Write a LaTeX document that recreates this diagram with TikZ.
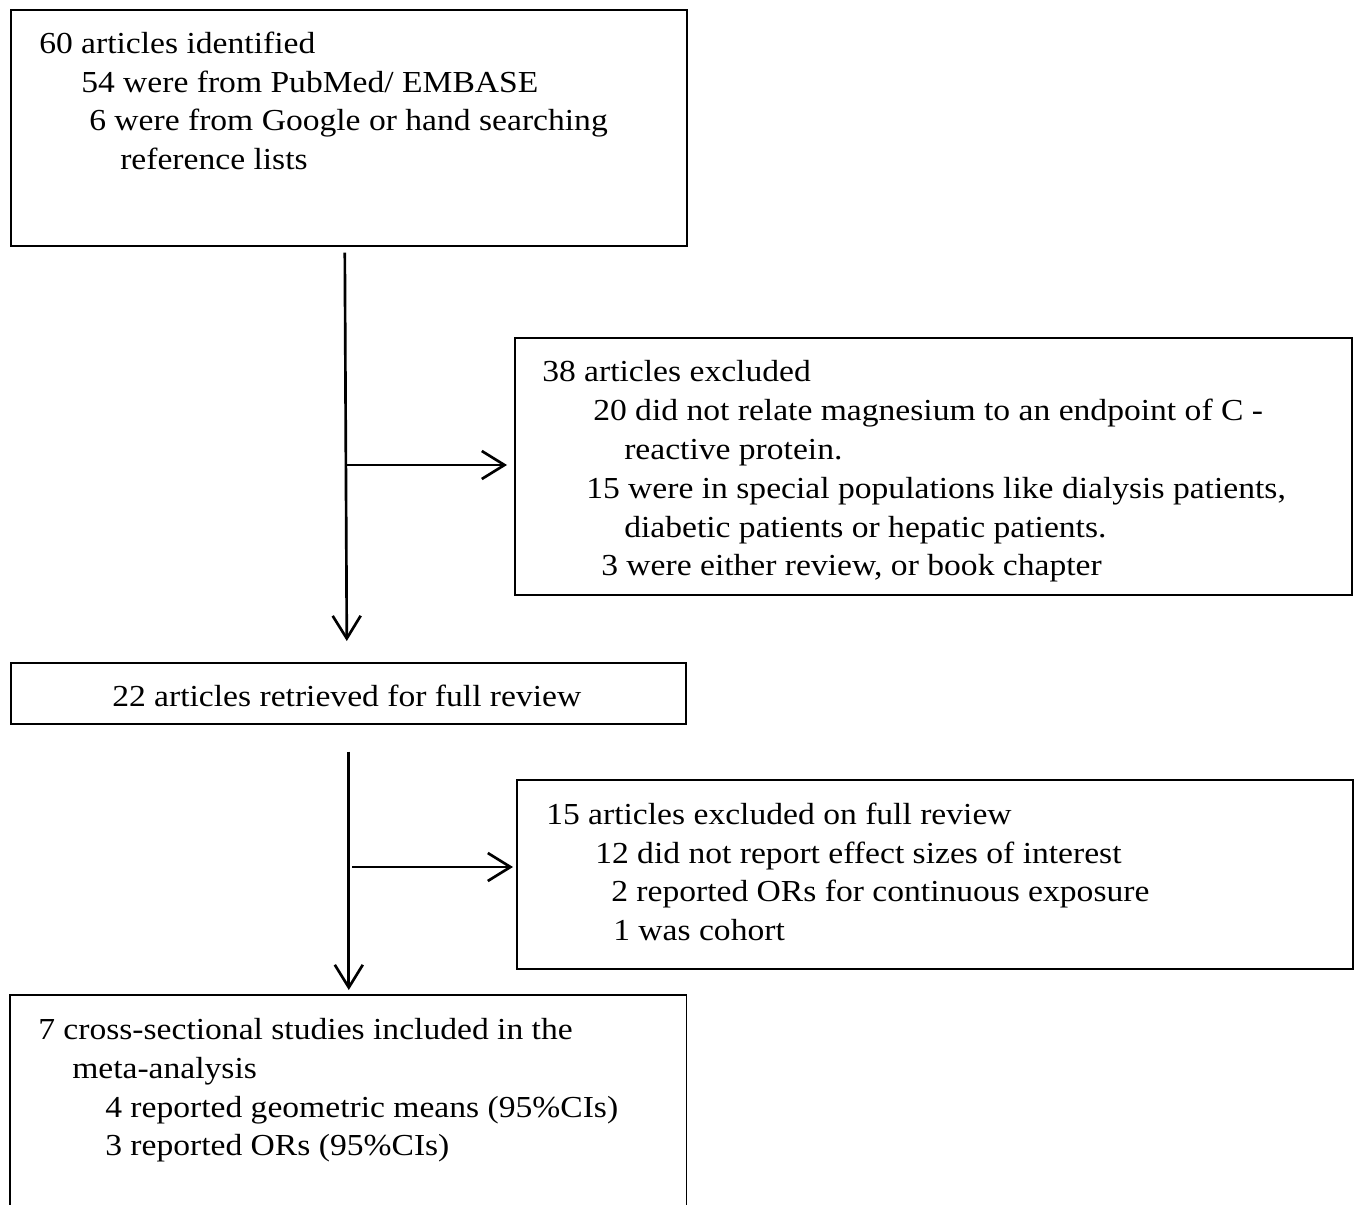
\documentclass[tikz,border=0pt]{standalone}
\usepackage{fontspec}
\setmainfont[FakeStretch=1.1]{Liberation Serif}
\usetikzlibrary{arrows.meta,calc}
\begin{document}
\begin{tikzpicture}[x=0.75pt,y=-0.75pt,
  box/.style={draw, line width=1.2pt, inner sep=0pt, anchor=north west},
  txt/.style={anchor=base west, inner sep=0pt, font=\fontsize{22.9}{27}\selectfont},
  arr/.style={line width=2pt, -{Straight Barb[length=17pt,width=21pt]}}]
\useasboundingbox (0,0) rectangle (1355,1205);
% boxes
\node[box, minimum width={676*0.75pt}, minimum height={236*0.75pt}] (b1) at (10,9) {};
\node[box, minimum width={837*0.75pt}, minimum height={257*0.75pt}] (b2) at (514,337) {};
\node[box, minimum width={675*0.75pt}, minimum height={61*0.75pt}] (b3) at (10,662) {};
\node[box, minimum width={836*0.75pt}, minimum height={189*0.75pt}] (b4) at (516,779) {};
\node[box, draw=none, minimum width={675*0.75pt}, minimum height={213*0.75pt}] (b5) at (10,995) {};
\draw[line width=1.2pt] (b5.south west) -- (b5.north west) -- (b5.north east) -- (b5.south east);
% box 1 text
\node[txt] (t11) at (39,54) {60 articles identified};
\node[txt] (t12) at (81,92.5) {54 were from PubMed/ EMBASE};
\node[txt] (t13) at (89,131) {6 were from Google or hand searching};
\node[txt] (t14) at (120,169.5) {reference lists};
% box 2 text
\node[txt] (t21) at (542,381) {38 articles excluded};
\node[txt] (t22) at (593,420) {20 did not relate magnesium to an endpoint of C -};
\node[txt] (t23) at (624,459) {reactive protein.};
\node[txt] (t24) at (586,498) {15 were in special populations like dialysis patients,};
\node[txt] (t25) at (624,537) {diabetic patients or hepatic patients.};
\node[txt] (t26) at (601,575) {3 were either review, or book chapter};
% box 3 text
\node[txt] (t31) at (112,706) {22 articles retrieved for full review};
% box 4 text
\node[txt] (t41) at (546,824) {15 articles excluded on full review};
\node[txt] (t42) at (595,863) {12 did not report effect sizes of interest};
\node[txt] (t43) at (611,901) {2 reported ORs for continuous exposure};
\node[txt] (t44) at (613,940) {1 was cohort};
% box 5 text
\node[txt] (t51) at (38,1039) {7 cross-sectional studies included in the};
\node[txt] (t52) at (72,1078) {meta-analysis};
\node[txt] (t53) at (105,1117) {4 reported geometric means (95\%CIs)};
\node[txt] (t54) at (105,1155) {3 reported ORs (95\%CIs)};
% connectors
\draw[arr] ($(b1.south)+(-4,6)$) -- ($(b3.north)+(-1.5,-21)$);
\coordinate (j1) at (345,465);
\draw[arr] (j1) -- ($(j1 -| b2.west)+(-7,0)$);
\draw[arr] ($(b3.south)+(0.5,27)$) -- ($(b5.north)+(0.5,-5)$);
\coordinate (j2) at (352,867);
\draw[arr] (j2) -- ($(j2 -| b4.west)+(-3,0)$);
\end{tikzpicture}
\end{document}
